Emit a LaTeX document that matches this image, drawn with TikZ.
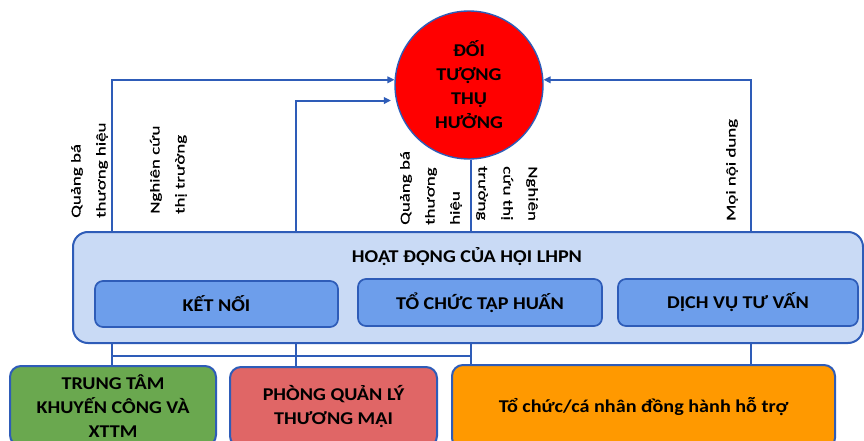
\documentclass[tikz,border=0pt]{standalone}
\usepackage{fontspec}
\setmainfont{Carlito}
\newfontfamily\boldlab[FakeStretch=1.12]{Carlito}
\newfontfamily\vertlab[FakeStretch=1.4, FakeBold=0.6]{Carlito}
\usetikzlibrary{arrows.meta}

\definecolor{lineblue}{HTML}{2E5CB8}
\definecolor{hdfill}{HTML}{C9DAF5}
\definecolor{innerfill}{HTML}{6D9EEB}
\definecolor{greenfill}{HTML}{6AA84F}
\definecolor{redfill}{HTML}{E06666}
\definecolor{orangefill}{HTML}{FF9900}
\definecolor{circfill}{HTML}{FF0000}

\tikzset{
  conn/.style={draw=lineblue, line width=2pt},
  arr/.style={conn, -{Triangle[length=7pt,width=6.5pt]}},
  boxtxt/.style={font=\boldlab\bfseries\fontsize{18}{24}\selectfont, align=center, text=black},
  vlab/.style={font=\vertlab\fontsize{13.5}{25}\selectfont, align=left, inner sep=0pt, anchor=south west},
  outerbox/.style={draw=lineblue, line width=2pt, rounded corners=15pt, fill=hdfill, inner sep=0pt},
  innerbox/.style={draw=lineblue, line width=1.7pt, rounded corners=8pt, fill=innerfill, inner sep=0pt, boxtxt},
  basebox/.style={draw=lineblue, line width=2pt, rounded corners=11pt, inner sep=0pt, boxtxt},
}

\begin{document}
\begin{tikzpicture}[x=1pt, y=-1pt]
\useasboundingbox (0,0) rectangle (864,441);
\clip (0,0) rectangle (864,441);
\fill[white] (0,0) rectangle (864,441);

% column positions of the vertical connectors
\coordinate (xa) at (112,0);
\coordinate (xb) at (296,0);
\coordinate (xc) at (471,0);
\coordinate (xd) at (751,0);
\coordinate (hy) at (0,356);

% target circle
\node[circle, draw=lineblue, line width=1.4pt, fill=circfill, minimum size=148pt, inner sep=0pt, boxtxt] (tgt) at (469,85) {ĐỐI\\TƯỢNG\\THỤ\\HƯỞNG};

% activities block
\node[outerbox, minimum width=790pt, minimum height=111pt] (hd) at (468,287.5) {};
\node[boxtxt] (hdt) at (467,257) {HOẠT ĐỘNG CỦA HỘI LHPN};
\node[innerbox, minimum width=243pt, minimum height=46pt] (kn) at (216.5,304) {KẾT NỐI};
\node[innerbox, minimum width=244pt, minimum height=47pt] (th) at (480,302.5) {TỔ CHỨC TẬP HUẤN};
\node[innerbox, minimum width=240pt, minimum height=47pt] (dv) at (738,302.5) {DỊCH VỤ TƯ VẤN};

% partner boxes
\node[basebox, fill=greenfill, minimum width=206pt, minimum height=80pt] (tt) at (113,406) {TRUNG TÂM\\KHUYẾN CÔNG VÀ\\XTTM};
\node[basebox, fill=redfill, minimum width=207pt, minimum height=80pt] (pq) at (333.5,407) {PHÒNG QUẢN LÝ\\THƯƠNG MẠI};
\node[basebox, fill=orangefill, minimum width=383pt, minimum height=84pt] (tc) at (643.5,407) {Tổ chức/cá nhân đồng hành hỗ trợ};

% connectors above the block
\draw[arr] (hd.north -| xa) |- (tgt.176);
\draw[arr, shorten >=5pt] (hd.north -| xb) |- (tgt.192);
\draw[conn] (tgt.south -| xc) -- (hd.north -| xc);
\draw[arr] (hd.north -| xd) |- (tgt.4);

% connectors below the block
\draw[conn] (hd.south -| xa) -- (tt.north -| xa);
\draw[conn] (hd.south -| xb) -- (pq.north -| xb);
\draw[conn] (hd.south -| xc) -- (tc.north -| xc);
\draw[conn] (hd.south -| xd) -- (tc.north -| xd);
\draw[conn] (hy -| xa) -- (hy -| xc);

% connector labels
\node[vlab, rotate=90] (lq1) at (108,218) {Quảng bá\\thương hiệu};
\node[vlab, rotate=90] (ln1) at (187,214) {Nghiên cứu\\thị trường};
\node[vlab, rotate=90] (lq2) at (462,225) {Quảng bá\\thương\\hiệu};
\node[vlab, rotate=-90] (ln2) at (476,166) {Nghiên\\cứu thị\\trường};
\node[vlab, rotate=90] (lm) at (738,221) {Mọi nội dung};
\end{tikzpicture}
\end{document}
